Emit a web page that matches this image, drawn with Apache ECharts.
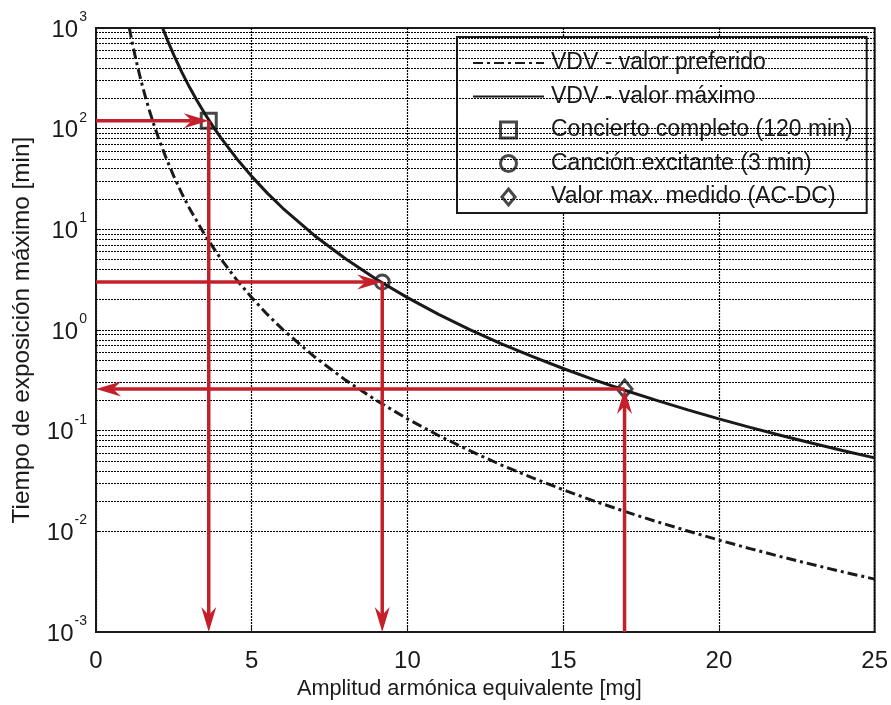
<!DOCTYPE html>
<html><head><meta charset="utf-8">
<script src="https://cdn.jsdelivr.net/npm/echarts@6/dist/echarts.min.js"></script>
<style>html,body{margin:0;padding:0;background:#fff}#c{width:891px;height:705px}</style>
</head><body><div id="c"></div>
<script>
// VDV - valor máximo (solid)
const maxX = [2.14, 2.3, 2.5, 2.75, 3, 3.25, 3.5, 3.75, 4, 4.5, 5, 5.5, 6, 7, 8, 9, 10, 11, 12, 13, 14, 15, 16, 17, 18, 19, 20, 21, 22, 23, 24, 25];
const maxY = [1000, 750, 538, 367, 259, 188, 140, 106, 82, 51.2, 33.6, 22.9, 16.2, 8.75, 5.13, 3.2, 2.1, 1.43, 1.01, 0.735, 0.547, 0.415, 0.32, 0.251, 0.2, 0.161, 0.131, 0.108, 0.0896, 0.075, 0.0633, 0.0538];
// VDV - valor preferido (dash-dot)
const prefX = [1.07, 1.15, 1.25, 1.37, 1.5, 1.62, 1.75, 1.87, 2, 2.25, 2.5, 2.75, 3, 3.5, 4, 4.5, 5, 5.5, 6, 7, 8, 9, 10, 11, 12, 13, 14, 15, 16, 17, 18, 19, 20, 21, 22, 23, 24, 25];
const prefY = [1000, 750, 537, 372, 259, 190, 140, 107, 82, 51.2, 33.6, 22.9, 16.2, 8.75, 5.13, 3.2, 2.1, 1.43, 1.01, 0.547, 0.32, 0.2, 0.131, 0.0896, 0.0633, 0.0459, 0.0342, 0.0259, 0.020, 0.0157, 0.0125, 0.0101, 0.0082, 0.00675, 0.0056, 0.00469, 0.00395, 0.00336];
// Markers
const concierto = [3.62, 120];
const cancion = [9.19, 3];
const medido = [16.97, 0.26];
// Red arrows: [x1, y1, x2 (tip), y2 (tip)]
const arrowsData = [
  [0, 120, 3.62, 120],
  [3.62, 120, 3.62, 0.001],
  [0, 3, 9.19, 3],
  [9.19, 3, 9.19, 0.001],
  [16.97, 0.001, 16.97, 0.26],
  [16.97, 0.26, 0, 0.26]
];
// Horizontal grid values (log axis, minor + major)
const yDecades = [0.001, 0.01, 0.1, 1, 10, 100];
const yMantissas = [1, 2, 3, 4, 5, 6, 7, 8, 9];
const names = ['VDV - valor preferido', 'VDV - valor máximo', 'Concierto completo (120 min)', 'Canción excitante (3 min)', 'Valor max. medido (AC-DC)'];

const yGrid = [];
yDecades.forEach(d => yMantissas.forEach(m => { if (!(m === 1 && d === 0.001)) yGrid.push(+(m * d).toPrecision(3)); }));

const FONT = 'Liberation Sans';
const TXT = '#1a1a1a';
const RED = '#c4202b';
const zip = (a, b) => a.map((v, i) => [v, b[i]]);
const markerStyle = {color: 'rgba(255,255,255,0)', borderColor: TXT, borderWidth: 3};

const chart = echarts.init(document.getElementById('c'), null, {renderer: 'canvas'});
chart.setOption({
  animation: false,
  backgroundColor: '#fff',
  grid: {left: 96, right: 14, top: 28, bottom: 68, show: true, borderColor: TXT, borderWidth: 2, backgroundColor: 'transparent'},
  xAxis: {
    type: 'value', min: 0, max: 25, interval: 5,
    axisLine: {show: true, lineStyle: {color: TXT, width: 2}},
    axisTick: {show: true, inside: true, length: 5, lineStyle: {color: TXT}},
    axisLabel: {fontSize: 24, fontFamily: FONT, color: TXT, margin: 17},
    splitLine: {show: true, lineStyle: {color: '#000', width: 1.2, type: [2, 1]}},
    name: 'Amplitud armónica equivalente [mg]', nameLocation: 'middle', nameGap: 33,
    nameTextStyle: {fontSize: 21.7, fontFamily: FONT, color: TXT, padding: [0, 32, 0, 0]}
  },
  yAxis: {
    type: 'log', logBase: 10, min: 0.001, max: 1000,
    axisLine: {show: true, lineStyle: {color: TXT, width: 2}},
    axisTick: {show: true, inside: true, length: 5, lineStyle: {color: TXT}},
    splitLine: {show: false},
    axisLabel: {
      margin: 9, color: TXT, fontFamily: FONT,
      formatter: v => '{b|10}{s|' + Math.round(Math.log10(v)) + '}',
      rich: {
        b: {fontSize: 24, fontFamily: FONT, color: TXT, padding: [4, 0, 0, 0]},
        s: {fontSize: 14, fontFamily: FONT, color: TXT, padding: [0, 0, 22, 1]}
      }
    },
    name: 'Tiempo de exposición máximo [min]', nameLocation: 'middle', nameGap: 62,
    nameTextStyle: {fontSize: 24.3, fontFamily: FONT, color: TXT}
  },
  legend: {
    orient: 'vertical', left: 457, top: 37, padding: [14, 14, 4, 15],
    itemWidth: 71, itemHeight: 16, itemGap: 9.5,
    backgroundColor: '#fff', borderColor: TXT, borderWidth: 2, borderRadius: 0,
    selectedMode: false, symbolKeepAspect: true,
    textStyle: {fontSize: 23, lineHeight: 24, fontFamily: FONT, color: TXT, padding: [0, 0, 0, 2]},
    data: [
      {name: names[0], itemStyle: {opacity: 0}},
      {name: names[1], itemStyle: {opacity: 0}},
      {name: names[2], icon: 'path://M0,0L10,0L10,10L0,10Z', itemStyle: markerStyle},
      {name: names[3], icon: 'path://M10,5A5,5,0,1,1,0,5A5,5,0,1,1,10,5Z', itemStyle: markerStyle},
      {name: names[4], icon: 'path://M7,0L14,8.5L7,17L0,8.5Z', itemStyle: markerStyle}
    ]
  },
  series: [
    {
      name: 'grid', type: 'line', data: [], z: 1, silent: true,
      markLine: {
        silent: true, symbol: 'none', label: {show: false}, animation: false,
        lineStyle: {color: '#000', width: 1.2, type: [2, 1]},
        data: yGrid.map(v => ({yAxis: v}))
      }
    },
    {
      name: names[0], type: 'line', data: zip(prefX, prefY), symbol: 'none', z: 3,
      lineStyle: {color: TXT, width: 3, type: [10, 4, 3, 4]}, itemStyle: {color: TXT}
    },
    {
      name: names[1], type: 'line', data: zip(maxX, maxY), symbol: 'none', z: 3,
      lineStyle: {color: TXT, width: 3, type: 'solid'}, itemStyle: {color: TXT}
    },
    {
      name: names[2], type: 'scatter', data: [concierto], symbol: 'rect', symbolSize: 15, z: 4,
      itemStyle: markerStyle
    },
    {
      name: names[3], type: 'scatter', data: [cancion], symbol: 'circle', symbolSize: 14, z: 4,
      itemStyle: markerStyle
    },
    {
      name: names[4], type: 'scatter', data: [medido], symbol: 'diamond', symbolSize: [15, 18], z: 4,
      itemStyle: markerStyle
    },
    {
      name: 'arrows', type: 'custom', z: 5, silent: true,
      data: arrowsData,
      encode: {x: [0, 2], y: [1, 3]},
      renderItem: function (params, api) {
        const p1 = api.coord([api.value(0), api.value(1)]);
        const p2 = api.coord([api.value(2), api.value(3)]);
        const dx = p2[0] - p1[0], dy = p2[1] - p1[1];
        const len = Math.sqrt(dx * dx + dy * dy);
        const ux = dx / len, uy = dy / len, nx = -uy, ny = ux;
        const L = 25, W = 7.5, N = 17;
        const back = [p2[0] - ux * L, p2[1] - uy * L];
        const notch = [p2[0] - ux * N, p2[1] - uy * N];
        return {
          type: 'group', children: [
            {type: 'line', shape: {x1: p1[0], y1: p1[1], x2: notch[0], y2: notch[1]}, style: {stroke: RED, lineWidth: 3.5}},
            {type: 'polygon', shape: {points: [p2, [back[0] + nx * W, back[1] + ny * W], notch, [back[0] - nx * W, back[1] - ny * W]]}, style: {fill: RED}}
          ]
        };
      }
    }
  ]
});
</script></body></html>
